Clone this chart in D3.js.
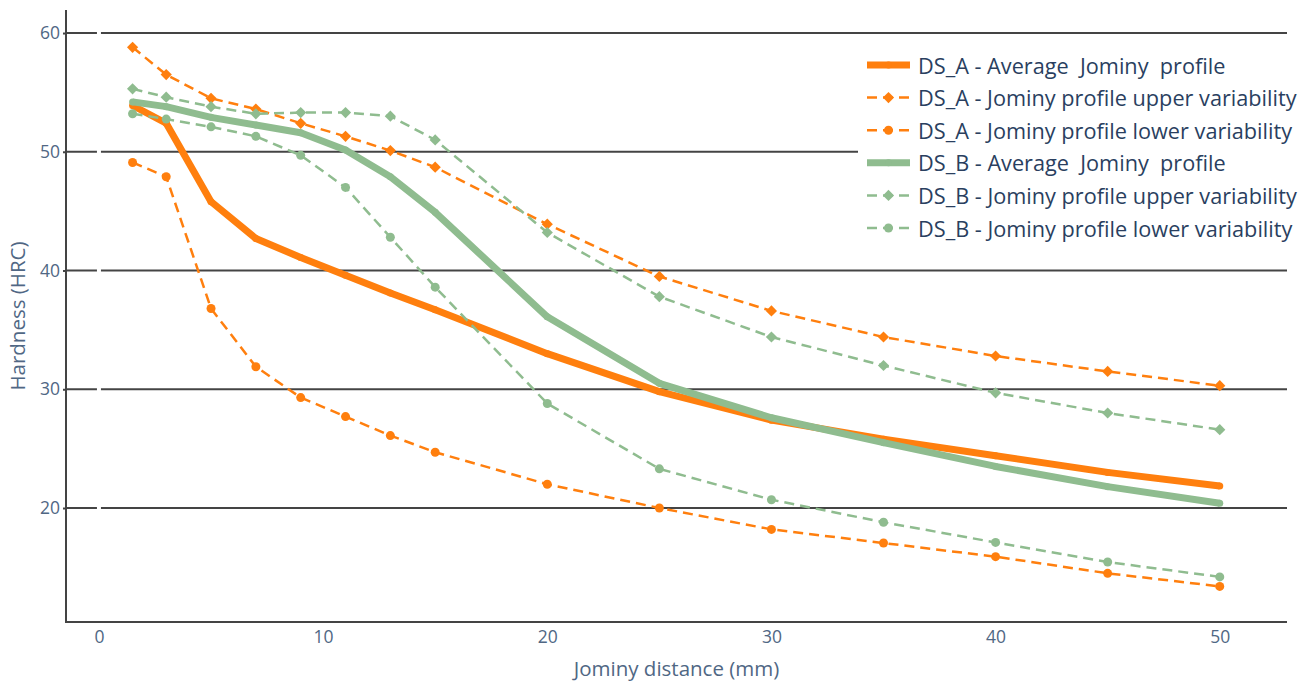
<!DOCTYPE html>
<html>
<head>
<meta charset="utf-8">
<script src="https://cdn.jsdelivr.net/npm/d3@7"></script>
<style>
  body { margin: 0; background: #fff; }
  svg { display: block; font-family: 'Open Sans', sans-serif; }
</style>
</head>
<body>
<svg width="1302" height="683"></svg>
<script>
const distances = [1.5, 3, 5, 7, 9, 11, 13, 15, 20, 25, 30, 35, 40, 45, 50];

const dsAAverage = [53.9, 52.4, 45.8, 42.7, 41.1, 39.6, 38.1, 36.7, 33.0, 29.8, 27.4, 25.8, 24.4, 23.0, 21.85];
const dsAUpper = [58.8, 56.5, 54.5, 53.6, 52.4, 51.3, 50.1, 48.7, 43.9, 39.5, 36.6, 34.4, 32.8, 31.5, 30.3];
const dsALower = [49.1, 47.9, 36.8, 31.9, 29.3, 27.7, 26.1, 24.7, 22.0, 20.0, 18.2, 17.05, 15.9, 14.5, 13.4];
const dsBAverage = [54.2, 53.8, 52.9, 52.25, 51.6, 50.15, 47.9, 44.9, 36.1, 30.5, 27.6, 25.5, 23.5, 21.8, 20.4];
const dsBUpper = [55.3, 54.6, 53.8, 53.2, 53.3, 53.3, 53.0, 51.0, 43.2, 37.8, 34.4, 32.0, 29.7, 28.0, 26.6];
const dsBLower = [53.2, 52.75, 52.1, 51.3, 49.7, 47.0, 42.8, 38.6, 28.8, 23.3, 20.7, 18.8, 17.1, 15.45, 14.2];

const xTicks = [0, 10, 20, 30, 40, 50];
const yTicks = [20, 30, 40, 50, 60];

const orange = '#ff7f0e',
    green = '#8fbc8f';

const series = [
  { name: 'DS_A - Average  Jominy  profile', values: dsAAverage, color: orange, kind: 'avg' },
  { name: 'DS_A - Jominy profile upper variability', values: dsAUpper, color: orange, kind: 'diamond' },
  { name: 'DS_A - Jominy profile lower variability', values: dsALower, color: orange, kind: 'circle' },
  { name: 'DS_B - Average  Jominy  profile', values: dsBAverage, color: green, kind: 'avg' },
  { name: 'DS_B - Jominy profile upper variability', values: dsBUpper, color: green, kind: 'diamond' },
  { name: 'DS_B - Jominy profile lower variability', values: dsBLower, color: green, kind: 'circle' }
];

const svg = d3.select('svg');
const plotLeft = 66, plotRight = 1287, plotTop = 10, plotBottom = 622;

const x = d3.scaleLinear()
    .domain([-1.47, 53])
    .range([plotLeft, plotRight]);

const y = d3.scaleLinear()
    .domain([10.4, 61.94])
    .range([plotBottom, plotTop]);

const tickColor = '#506784';

// grid lines
svg.append('g')
  .selectAll('line')
  .data(yTicks)
  .enter().append('line')
    .attr('x1', plotLeft)
    .attr('x2', plotRight)
    .attr('y1', d => y(d))
    .attr('y2', d => y(d))
    .attr('stroke', '#444')
    .attr('stroke-width', 2);

// white zero line at x = 0
svg.append('line')
    .attr('x1', x(0)).attr('x2', x(0))
    .attr('y1', plotTop).attr('y2', plotBottom - 2)
    .attr('stroke', '#fff')
    .attr('stroke-width', 4);

// axes
const yAxis = svg.append('g')
    .attr('transform', `translate(${plotLeft},0)`)
    .call(d3.axisLeft(y).tickValues(yTicks).tickSize(3).tickPadding(3));
yAxis.select('.domain').remove();

const xAxis = svg.append('g')
    .attr('transform', `translate(0,${plotBottom})`)
    .call(d3.axisBottom(x).tickValues(xTicks).tickSize(0).tickPadding(9));
xAxis.select('.domain').remove();

[yAxis, xAxis].forEach(a => {
  a.selectAll('text')
      .attr('fill', tickColor)
      .style('font-size', '17.5px')
      .style('font-family', "'Open Sans', sans-serif");
  a.selectAll('.tick line').attr('stroke', '#444').attr('stroke-width', 2);
});

svg.append('path')
    .attr('d', `M${plotLeft},${plotTop}V${plotBottom}H${plotRight}`)
    .attr('fill', 'none')
    .attr('stroke', '#444')
    .attr('stroke-width', 2);

// axis titles
svg.append('text')
    .attr('transform', `translate(17,${(plotTop + plotBottom) / 2}) rotate(-90)`)
    .attr('text-anchor', 'middle')
    .attr('dominant-baseline', 'central')
    .attr('fill', tickColor)
    .style('font-size', '20.5px')
    .text('Hardness (HRC)');

svg.append('text')
    .attr('x', (plotLeft + plotRight) / 2)
    .attr('y', 668)
    .attr('text-anchor', 'middle')
    .attr('dominant-baseline', 'central')
    .attr('fill', tickColor)
    .style('font-size', '20.5px')
    .text('Jominy distance (mm)');

// lines
const line = d3.line()
    .x((d, i) => x(distances[i]))
    .y(d => y(d));

const diamond = d3.symbol().type(d3.symbolDiamond2).size(80);

function drawMarkers(g, s, cx, cy) {
  if (s.kind === 'diamond') {
    g.append('path')
        .attr('d', diamond())
        .attr('transform', `translate(${cx},${cy})`)
        .attr('fill', s.color);
  } else {
    g.append('circle')
        .attr('cx', cx)
        .attr('cy', cy)
        .attr('r', s.kind === 'avg' ? 3.5 : 4.5)
        .attr('fill', s.color);
  }
}

const plot = svg.append('g');
series.forEach(s => {
  const g = plot.append('g');
  g.append('path')
      .datum(s.values)
      .attr('d', line)
      .attr('fill', 'none')
      .attr('stroke', s.color)
      .attr('stroke-width', s.kind === 'avg' ? 7 : 2.5)
      .attr('stroke-linejoin', 'round')
      .attr('stroke-dasharray', s.kind === 'avg' ? null : '10,6');
  s.values.forEach((v, i) => drawMarkers(g, s, x(distances[i]), y(v)));
});

// legend
const legend = svg.append('g');
legend.append('rect')
    .attr('x', 858)
    .attr('y', 47)
    .attr('width', 444)
    .attr('height', 199)
    .attr('fill', '#fff');

series.forEach((s, i) => {
  const ly = 65 + i * 32.6;
  const g = legend.append('g');
  g.append('line')
      .attr('x1', 867).attr('x2', 910)
      .attr('y1', ly).attr('y2', ly)
      .attr('stroke', s.color)
      .attr('stroke-width', s.kind === 'avg' ? 7 : 2.5)
      .attr('stroke-dasharray', s.kind === 'avg' ? null : '10,6');
  drawMarkers(g, s, 888.5, ly);
  g.append('text')
      .attr('x', 918)
      .attr('y', ly)
      .attr('dominant-baseline', 'central')
      .attr('fill', '#2a3f5f')
      .style('font-size', '21.7px')
      .style('white-space', 'pre')
      .text(s.name);
});
</script>
</body>
</html>
